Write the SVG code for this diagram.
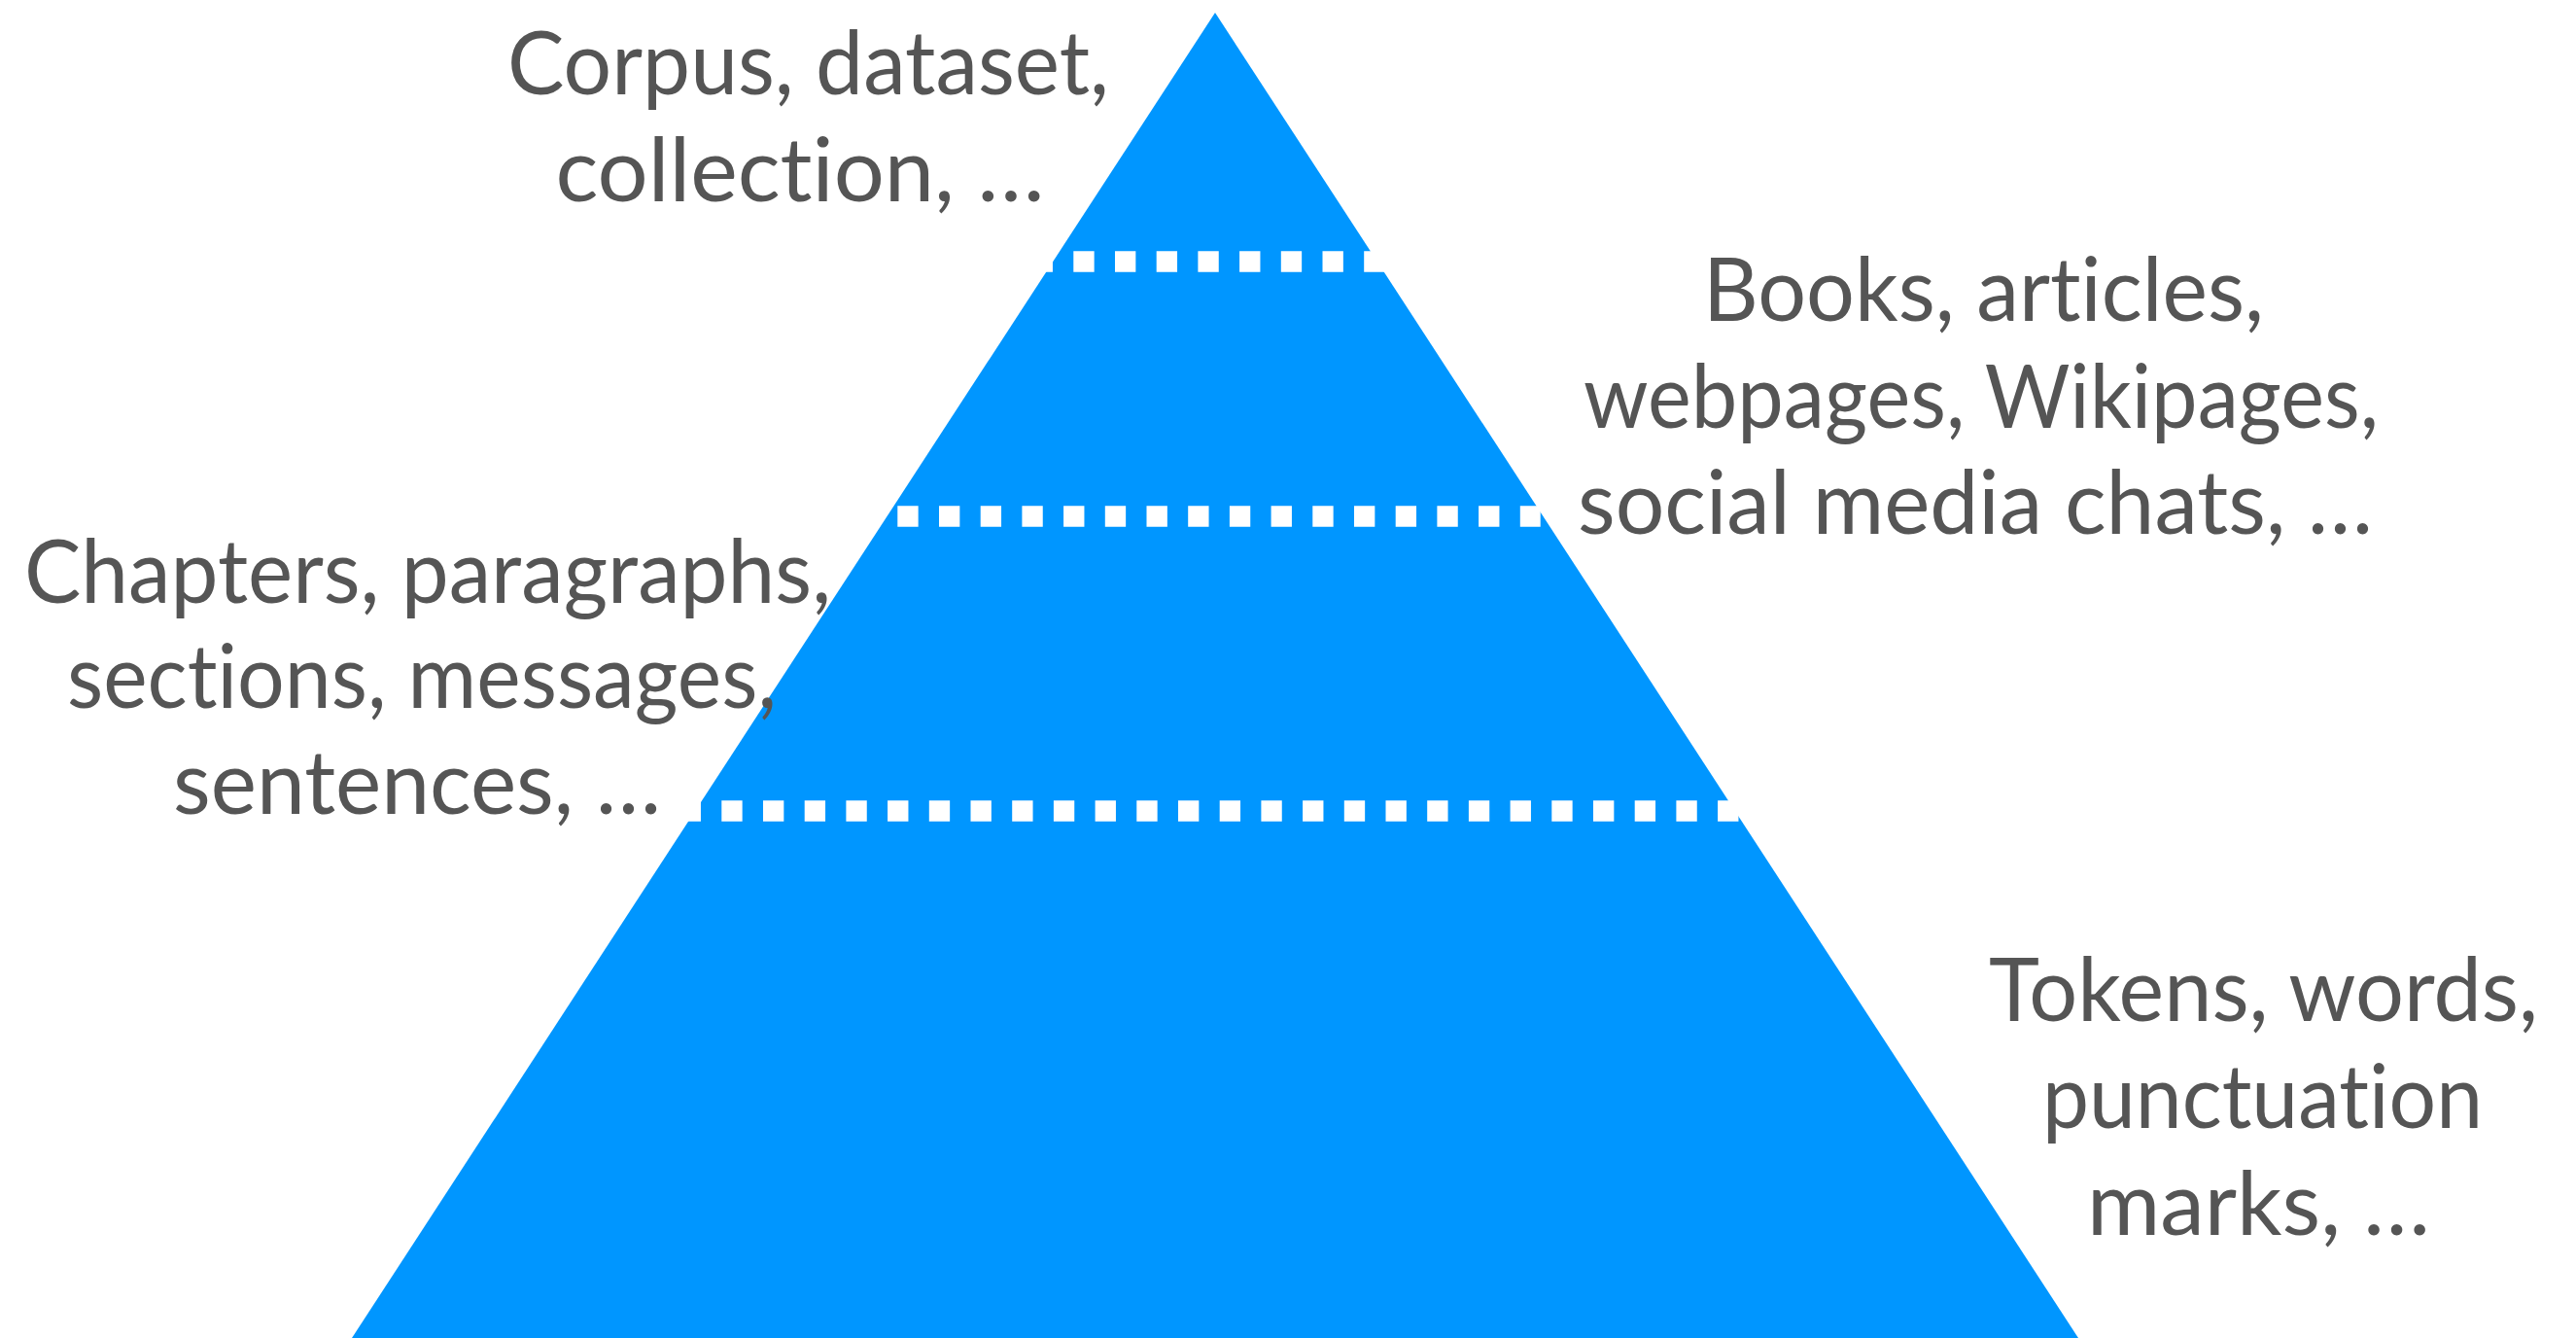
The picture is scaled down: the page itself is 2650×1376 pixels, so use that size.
<svg xmlns="http://www.w3.org/2000/svg" width="2650" height="1376" viewBox="0 0 2650 1376">
  <style>
    .tier { fill: #0096ff; }
    .divider { fill: none; stroke: #ffffff; stroke-width: 21.35; stroke-dasharray: 21.35 21.35; stroke-linecap: butt; }
    .label { font-family: Lato, "Liberation Sans", sans-serif; font-size: 91px; fill: #555555; text-anchor: middle; font-variant-ligatures: none; font-feature-settings: "liga" 0, "clig" 0; }
  </style>
  <rect width="2650" height="1376" fill="#ffffff"/>

  <!-- pyramid body -->
  <g id="pyramid">
    <polygon class="tier" points="1250,13 2138,1376 362,1376"/>
  </g>

  <!-- dotted level separators -->
  <g id="connectors">
    <line class="divider" x1="1061.6" y1="269" x2="1424.6" y2="269"/>
    <line class="divider" x1="923.3" y1="531" x2="1584.7" y2="531"/>
    <line class="divider" x1="699.6" y1="834" x2="1789" y2="834"/>
  </g>

  <!-- level labels -->
  <g id="level-corpus">
    <text class="label" x="831.5" y="97" textLength="619" lengthAdjust="spacingAndGlyphs">Corpus, dataset,</text>
    <text class="label" x="823" y="207" textLength="503" lengthAdjust="spacingAndGlyphs">collection, …</text>
  </g>
  <g id="level-documents">
    <text class="label" x="2040.5" y="330" textLength="577" lengthAdjust="spacingAndGlyphs">Books, articles,</text>
    <text class="label" x="2038" y="440" textLength="818" lengthAdjust="spacingAndGlyphs">webpages, Wikipages,</text>
    <text class="label" x="2032" y="549" textLength="818" lengthAdjust="spacingAndGlyphs">social media chats, …</text>
  </g>
  <g id="level-sections">
    <text class="label" x="440" y="620" textLength="830" lengthAdjust="spacingAndGlyphs">Chapters, paragraphs,</text>
    <text class="label" x="434" y="728" textLength="730" lengthAdjust="spacingAndGlyphs">sections, messages,</text>
    <text class="label" x="429" y="837" textLength="502" lengthAdjust="spacingAndGlyphs">sentences, …</text>
  </g>
  <g id="level-tokens">
    <text class="label" x="2328.5" y="1050" textLength="565" lengthAdjust="spacingAndGlyphs">Tokens, words,</text>
    <text class="label" x="2327.5" y="1160" textLength="453" lengthAdjust="spacingAndGlyphs">punctuation</text>
    <text class="label" x="2323.5" y="1270" textLength="353" lengthAdjust="spacingAndGlyphs">marks, …</text>
  </g>
</svg>
